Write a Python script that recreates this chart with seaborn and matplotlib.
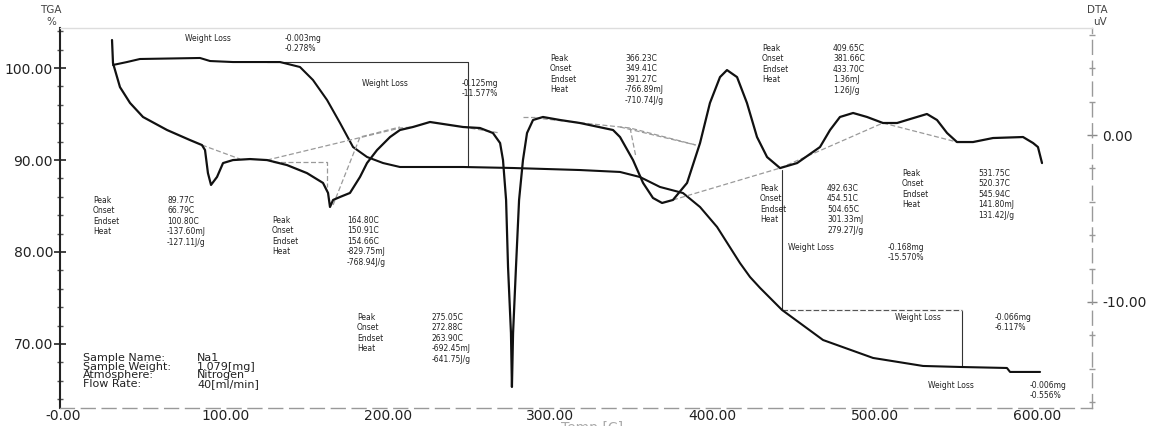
import matplotlib
matplotlib.use("Agg")
import pandas as pd
import matplotlib.pyplot as plt
import seaborn as sns
from matplotlib.ticker import FixedLocator, FixedFormatter, MultipleLocator

# TGA curve (weight %, left axis)
tga_temp = [30.8, 39.4, 47.4, 84.4, 90.6, 104.7, 125.7, 133.7, 146.0, 154.0, 162.7,
            170.7, 178.7, 187.3, 197.2, 207.6, 246.5, 277.3, 318.5, 343.2, 355.5,
            367.8, 382.0, 392.5, 403.0, 417.1, 423.3, 429.5, 443.0, 468.3, 499.1,
            529.9, 552.7, 581.6, 583.5, 602.0]
tga_weight = [100.33, 100.65, 100.98, 101.09, 100.76, 100.65, 100.65, 100.65, 100.11,
              98.70, 96.52, 94.02, 91.41, 90.33, 89.67, 89.24, 89.24, 89.13, 88.91,
              88.70, 88.15, 87.07, 86.41, 84.89, 82.72, 78.80, 77.28, 76.09, 73.70,
              70.43, 68.48, 67.61, 67.50, 67.39, 66.96, 66.96]

# DTA curve (uV, right axis)
dta_temp = [30.2, 30.8, 35.1, 41.3, 49.3, 64.1, 78.2, 85.6, 87.5, 89.3, 91.2, 94.9,
            98.6, 104.7, 115.2, 125.7, 138.0, 150.3, 160.2, 163.3, 164.5, 166.4,
            170.7, 176.8, 183.0, 187.3, 193.5, 201.5, 207.6, 215.6, 226.1, 246.5,
            256.9, 264.9, 269.3, 271.1, 273.0, 274.2, 276.0, 276.6, 277.3, 279.1,
            281.0, 283.4, 285.9, 289.6, 295.7, 306.2, 318.5, 338.9, 343.2, 351.2,
            357.4, 363.5, 369.1, 375.8, 384.5, 392.5, 398.6, 404.8, 409.1, 415.3,
            421.4, 427.6, 433.8, 441.8, 452.3, 466.4, 472.6, 478.7, 486.8, 495.4,
            505.2, 513.9, 520.0, 532.3, 538.5, 544.7, 550.8, 560.7, 573.0, 591.5,
            597.7, 600.7, 603.2]
dta_uv = [5.69, 4.31, 2.87, 1.92, 1.08, 0.30, -0.30, -0.60, -0.90, -2.28, -2.99, -2.51,
          -1.68, -1.50, -1.44, -1.50, -1.80, -2.28, -2.87, -3.47, -4.31, -3.89,
          -3.71, -3.47, -2.51, -1.68, -0.90, -0.12, 0.30, 0.48, 0.78, 0.48,
          0.42, 0.12, -0.48, -1.50, -3.89, -7.90, -11.86, -15.09, -11.86, -7.90,
          -3.89, -1.50, 0.12, 0.90, 1.08, 0.90, 0.72, 0.30, -0.12, -1.50,
          -2.87, -3.77, -4.07, -3.89, -2.87, -0.48, 1.92, 3.47, 3.89, 3.47,
          1.92, -0.12, -1.32, -1.98, -1.68, -0.72, 0.30, 1.08, 1.32, 1.08,
          0.72, 0.72, 0.90, 1.26, 0.90, 0.12, -0.42, -0.42, -0.18, -0.12,
          -0.48, -0.72, -1.68]

# DTA peak baselines (dashed construction lines)
base_temp = [[85.6, 109.1], [125.7, 207.6, 215.6], [129.4, 162.7, 162.7],
             [166.4, 183.0, 207.6], [246.5, 269.3], [283.4, 291.0],
             [291.0, 349.4, 390.0], [349.4, 353.0], [343.2, 390.0],
             [375.8, 441.8], [441.8, 505.2, 550.8]]
base_uv = [[-0.60, -1.44], [-1.50, 0.42, 0.48], [-1.62, -1.62, -3.10],
           [-4.19, -0.12, 0.48], [0.48, 0.12], [1.08, 1.08],
           [1.02, 0.42, -0.60], [0.42, -1.32], [0.48, -0.60],
           [-3.89, -1.98], [-1.98, 0.72, -0.42]]

# TGA weight-loss step markers
step_temp = [[125.7, 249.5, 249.5], [443.0, 443.0, 554.0, 554.0]]
step_weight = [[100.65, 100.65, 89.24], [88.9, 73.7, 73.7, 67.5]]

x_ticks = [0, 100, 200, 300, 400, 500, 600]
x_tick_labels = ["-0.00", "100.00", "200.00", "300.00", "400.00", "500.00", "600.00"]
tga_ticks = [70, 80, 90, 100]
tga_tick_labels = ["70.00", "80.00", "90.00", "100.00"]
dta_ticks = [-10, 0]
dta_tick_labels = ["-10.00", "0.00"]

# annotation blocks: (x px, y px of first line, text)
notes = [
    (185, 38, "Weight Loss"), (285, 38, "-0.003mg\n-0.278%"),
    (362, 83, "Weight Loss"), (462, 83, "-0.125mg\n-11.577%"),
    (550, 58, "Peak\nOnset\nEndset\nHeat"),
    (625, 58, "366.23C\n349.41C\n391.27C\n-766.89mJ\n-710.74J/g"),
    (762, 48, "Peak\nOnset\nEndset\nHeat"),
    (833, 48, "409.65C\n381.66C\n433.70C\n1.36mJ\n1.26J/g"),
    (902, 173, "Peak\nOnset\nEndset\nHeat"),
    (978, 173, "531.75C\n520.37C\n545.94C\n141.80mJ\n131.42J/g"),
    (760, 188, "Peak\nOnset\nEndset\nHeat"),
    (827, 188, "492.63C\n454.51C\n504.65C\n301.33mJ\n279.27J/g"),
    (788, 247, "Weight Loss"), (888, 247, "-0.168mg\n-15.570%"),
    (895, 317, "Weight Loss"), (995, 317, "-0.066mg\n-6.117%"),
    (928, 385, "Weight Loss"), (1030, 385, "-0.006mg\n-0.556%"),
    (93, 200, "Peak\nOnset\nEndset\nHeat"),
    (167, 200, "89.77C\n66.79C\n100.80C\n-137.60mJ\n-127.11J/g"),
    (272, 220, "Peak\nOnset\nEndset\nHeat"),
    (347, 220, "164.80C\n150.91C\n154.66C\n-829.75mJ\n-768.94J/g"),
    (357, 317, "Peak\nOnset\nEndset\nHeat"),
    (432, 317, "275.05C\n272.88C\n263.90C\n-692.45mJ\n-641.75J/g"),
]
sample_keys = "Sample Name:\nSample Weight:\nAtmosphere:\nFlow Rate:"
sample_values = "Na1\n1.079[mg]\nNitrogen\n40[ml/min]"

sns.set_style("white")
plt.rcParams["font.family"] = ["DejaVu Sans"]

W, H = 1153, 426
fig = plt.figure(figsize=(W / 100, H / 100), dpi=100)
ax = fig.add_axes([60 / W, 1 - 408 / H, (1092 - 60) / W, (408 - 28) / H])
ax2 = ax.twinx()

tga = pd.DataFrame({"Temp": tga_temp, "Weight": tga_weight})
dta = pd.DataFrame({"Temp": dta_temp, "DTA": dta_uv})

for tt, ww in zip(step_temp, step_weight):
    ax.plot(tt, ww, color="#333333", lw=0.8)
ax.plot(step_temp[1][1:3], step_weight[1][1:3], color="white", lw=1.0)
ax.plot(step_temp[1][1:3], step_weight[1][1:3], color="#555555", lw=0.8, ls=(0, (5, 2)))
sns.lineplot(data=tga, x="Temp", y="Weight", ax=ax, color="#111111", lw=1.5, sort=False)

for tt, uu in zip(base_temp, base_uv):
    ax2.plot(tt, uu, color="#9a9a9a", lw=0.9, ls=(0, (4, 2)))
sns.lineplot(data=dta, x="Temp", y="DTA", ax=ax2, color="#111111", lw=1.6, sort=False)

ax.set_xlim(-1.85, 634)
ax.set_ylim(63.04, 104.35)
ax2.set_ylim(-16.35, 6.41)
for a in (ax, ax2):
    a.set_xlabel("")
    a.set_ylabel("")
    a.grid(False)

ax.xaxis.set_major_locator(FixedLocator(x_ticks))
ax.xaxis.set_major_formatter(FixedFormatter(x_tick_labels))
ax.xaxis.set_minor_locator(MultipleLocator(20))
ax.yaxis.set_major_locator(FixedLocator(tga_ticks))
ax.yaxis.set_major_formatter(FixedFormatter(tga_tick_labels))
ax.yaxis.set_minor_locator(MultipleLocator(2))
ax2.yaxis.set_major_locator(FixedLocator(dta_ticks))
ax2.yaxis.set_major_formatter(FixedFormatter(dta_tick_labels))
ax2.yaxis.set_minor_locator(MultipleLocator(2))

ax.tick_params(axis="x", which="major", direction="inout", length=7, width=1,
               color="#777777", labelsize=10, labelcolor="#222222", pad=-3)
ax.tick_params(axis="x", which="minor", direction="inout", length=3, width=1, color="#888888")
ax.tick_params(axis="y", which="major", direction="inout", length=8, width=1.2,
               color="#222222", labelsize=10, labelcolor="#222222", pad=1)
ax.tick_params(axis="y", which="minor", direction="inout", length=5, width=1, color="#555555")
ax2.tick_params(axis="y", which="major", direction="inout", length=7, width=1,
                color="#888888", labelsize=10, labelcolor="#222222", pad=4)
ax2.tick_params(axis="y", which="minor", direction="inout", length=5, width=1, color="#999999")

for s in ("top", "right", "bottom"):
    ax.spines[s].set_visible(False)
ax.spines["left"].set_color("#222222")
ax.spines["left"].set_linewidth(1.5)
ax2.spines["left"].set_visible(False)
ax2.spines["top"].set_color("#dddddd")
ax2.spines["top"].set_linewidth(1.0)
for s in ("right", "bottom"):
    ax2.spines[s].set_color("#999999")
    ax2.spines[s].set_linewidth(1.0)
    ax2.spines[s].set_linestyle((0, (10, 5)))

for x, y, s in notes:
    fig.text(x / W, 1 - (y - 4) / H, s, fontsize=5.5, color="#222222",
             va="top", ha="left", linespacing=1.2)
fig.text(83 / W, 1 - 353 / H, sample_keys, fontsize=8, color="#222222",
         va="top", ha="left", linespacing=0.82)
fig.text(197 / W, 1 - 353 / H, sample_values, fontsize=8, color="#222222",
         va="top", ha="left", linespacing=0.82)

fig.text(51 / W, 1 - 10 / H, "TGA", fontsize=7.5, color="#444444", ha="center", va="center")
fig.text(51 / W, 1 - 22 / H, "%", fontsize=7.5, color="#444444", ha="center", va="center")
fig.text(1097 / W, 1 - 10 / H, "DTA", fontsize=7.5, color="#444444", ha="center", va="center")
fig.text(1100 / W, 1 - 22 / H, "uV", fontsize=7.5, color="#444444", ha="center", va="center")
fig.text(592 / W, 1 - 428 / H, "Temp [C]", fontsize=10, color="#aaaaaa", ha="center", va="center")

fig.savefig("out.png", dpi=100)
